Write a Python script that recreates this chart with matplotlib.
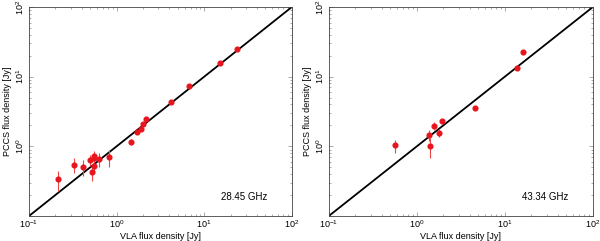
import matplotlib
matplotlib.use("Agg")
import matplotlib.pyplot as plt
import numpy as np
from matplotlib.ticker import LogLocator, FuncFormatter, NullFormatter

plt.rcParams['font.family'] = ['Liberation Sans', 'DejaVu Sans']
plt.rcParams['mathtext.fontset'] = 'custom'
plt.rcParams['mathtext.rm'] = 'Liberation Sans'

# 28.45 GHz panel
vla_28 = [0.216, 0.328, 0.409, 0.491, 0.522, 0.546, 0.55, 0.55, 0.622, 0.81,
          1.48, 1.69, 1.89, 2.02, 2.19, 4.17, 6.69, 15.1, 23.8]
pccs_28 = [0.34, 0.54, 0.506, 0.638, 0.425, 0.728, 0.67, 0.524, 0.653, 0.698,
           1.16, 1.59, 1.76, 2.09, 2.49, 4.33, 7.35, 15.5, 24.7]
err_28 = [0.11, 0.13, 0.13, 0.12, 0.11, 0.14, 0.12, 0.11, 0.15, 0.2,
          0.12, 0.10, 0.10, 0.10, 0.10, 0.15, 0.2, 0.4, 0.6]

# 43.34 GHz panel
vla_43 = [0.561, 1.39, 1.41, 1.58, 1.79, 1.93, 4.54, 13.6, 16.3]
pccs_43 = [1.03, 1.46, 1.01, 1.96, 1.57, 2.29, 3.51, 13.3, 22.3]
err_43 = [0.22, 0.25, 0.32, 0.25, 0.22, 0.15, 0.2, 0.5, 1.0]

labels = ["28.45 GHz", "43.34 GHz"]

fig = plt.figure(figsize=(6.0, 2.41), dpi=100)
ax1 = fig.add_axes([0.0483, 0.1037, 0.438, 0.867])
ax2 = fig.add_axes([0.548, 0.1037, 0.44, 0.867])

def fmt(v, pos):
    e = int(round(np.log10(v)))
    return r'$10^{%d}$' % e

for ax, xs, ys, es, lab in [(ax1, vla_28, pccs_28, err_28, labels[0]),
                            (ax2, vla_43, pccs_43, err_43, labels[1])]:
    ax.set_xscale('log')
    ax.set_yscale('log')
    ax.set_xlim(0.1, 100)
    ax.set_ylim(0.1, 100)
    ax.plot([0.1, 100], [0.1, 100], color='black', lw=1.3, zorder=2)
    ax.errorbar(xs, ys, yerr=es, fmt='o', color='#e8141e', ecolor='#f04545',
                elinewidth=0.8, markersize=3.4, capsize=0, zorder=3)
    ax.xaxis.set_major_locator(LogLocator(base=10, numticks=10))
    ax.yaxis.set_major_locator(LogLocator(base=10, numticks=10))
    ax.xaxis.set_major_formatter(FuncFormatter(fmt))
    ax.yaxis.set_major_formatter(FuncFormatter(lambda v, p: '' if v < 0.5 else fmt(v, p)))
    ax.xaxis.set_minor_formatter(NullFormatter())
    ax.yaxis.set_minor_formatter(NullFormatter())
    ax.tick_params(which='both', direction='in', top=True, right=True, labelsize=6.5,
                   color='#888888', width=0.5)
    ax.tick_params(which='major', length=3, pad=2)
    ax.tick_params(which='minor', length=1.5)
    for lbl in ax.get_yticklabels():
        lbl.set_rotation(90)
        lbl.set_va('center')
    for s in ax.spines.values():
        s.set_linewidth(0.6)
        s.set_color('#444444')
    ax.set_xlabel('VLA flux density [Jy]', fontsize=6.5, labelpad=1)
    ax.set_ylabel('PCCS flux density [Jy]', fontsize=6.5, labelpad=2)
    ax.text(0.82, 0.09, lab, transform=ax.transAxes, fontsize=7, ha='center', va='center')

fig.savefig('out.png', dpi=100)
